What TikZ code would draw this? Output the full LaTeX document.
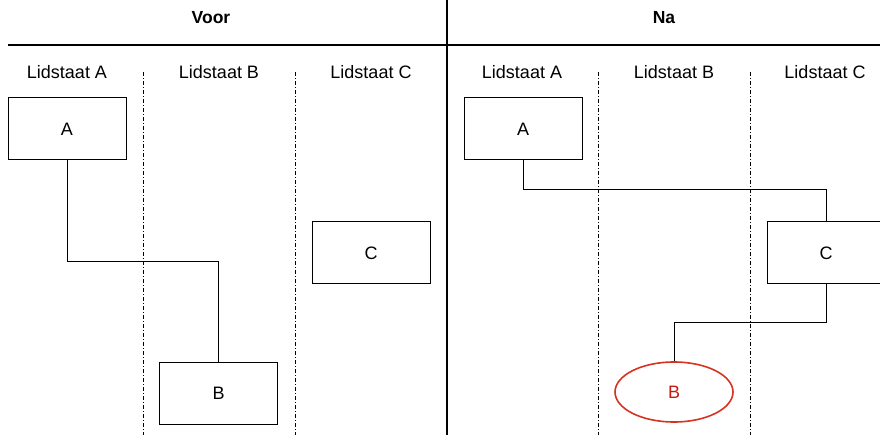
\documentclass[tikz,border=0pt]{standalone}
\usepackage{fontspec}
\setmainfont{Liberation Sans}
\usetikzlibrary{shapes.geometric}
\definecolor{redline}{HTML}{D6321F}
\definecolor{redtext}{HTML}{C41A10}
\tikzset{
  every node/.style={font=\fontsize{18}{21}\selectfont, inner sep=0pt},
  head/.style={font=\fontsize{17.5}{20}\selectfont\bfseries},
  state/.style={draw=black, line width=1pt, minimum width=118pt, minimum height=62pt},
  moved/.style={ellipse, draw=redline, line width=1.6pt, minimum width=118pt, minimum height=60pt, text=redtext},
  lane/.style={line width=1pt, dash pattern=on 4pt off 2pt on 1pt off 2pt},
  rule/.style={line width=2pt},
  link/.style={line width=1pt}
}
\begin{document}
\begin{tikzpicture}[x=1pt, y=-1pt]
\useasboundingbox (0,0) rectangle (880,435);
\clip (0,0) rectangle (880,435);

% frame
\draw[rule] (447,0) -- (447,435);
\draw[rule] (8,45) -- (880,45);

% headings
\node[head] (voor) at (211,18) {Voor};
\node[head] (na) at (664,18) {Na};

% member-state columns
\foreach \x/\l [count=\i] in {67/A,219/B,371/C,522/A,674/B,825/C}
  \node (lbl\i) at (\x,72) {Lidstaat \l};
\foreach \x in {143,295,598,750}
  \draw[lane] (\x,72) -- (\x,435);

% before
\node[state] (a1) at (67,129) {A};
\node[state] (c1) at (371,253) {C};
\node[state] (b1) at (218.5,393) {B};
\draw[link] (a1.south) -- (67,262) -| (b1.north);

% after
\node[state] (a2) at (523,129) {A};
\node[state] (c2) at (826,253) {C};
\node[moved] (b2) at (674,392) {B};
\draw[link] (a2.south) -- (523,190) -| (c2.north);
\draw[link] (c2.south) -- (826,322.5) -| (b2.north);
\end{tikzpicture}
\end{document}
